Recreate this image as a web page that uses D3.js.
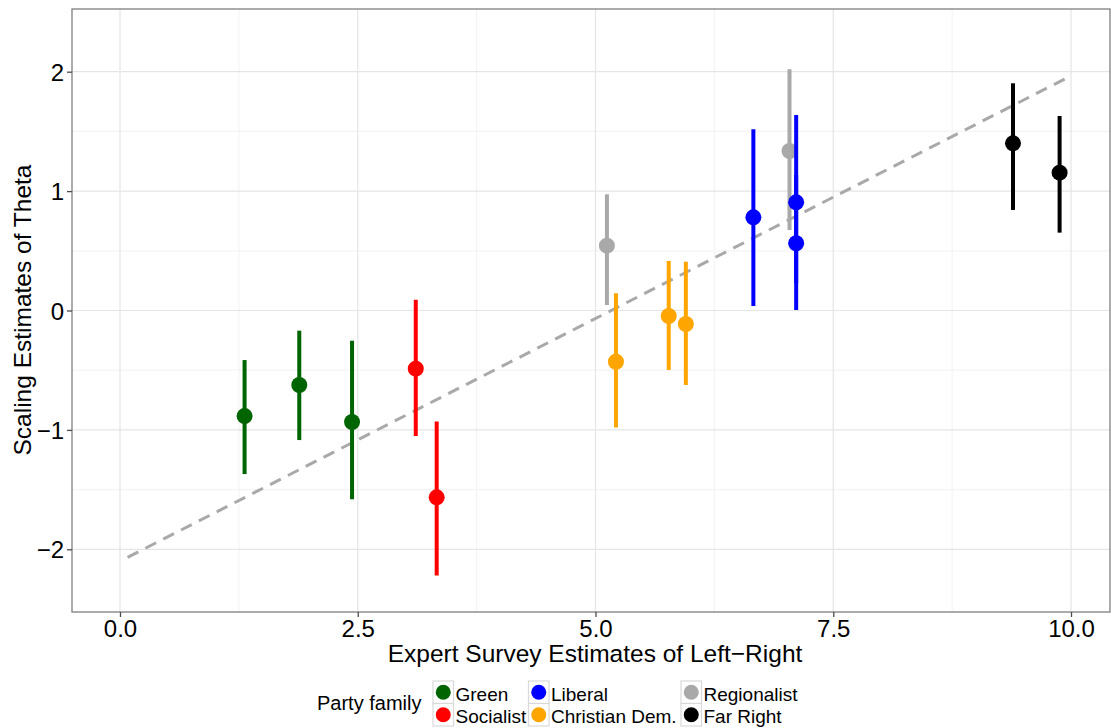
<!DOCTYPE html>
<html>
<head>
<meta charset="utf-8">
<script src="https://cdn.jsdelivr.net/npm/d3@7"></script>
<style>
  body { margin: 0; background: #fff; }
  svg { display: block; font-family: "Liberation Sans", Arial, sans-serif; }
</style>
</head>
<body>
<svg id="chart"></svg>
<script>
const W = 1111;
const H = 728;

// party estimates: expert left-right, theta, and interval bounds
const parties  = ["Green", "Green", "Green", "Socialist", "Socialist", "Regionalist", "Christian Dem.", "Christian Dem.", "Christian Dem.", "Liberal", "Regionalist", "Liberal", "Liberal", "Far Right", "Far Right"];
const expertLR = [1.31, 1.885, 2.44, 3.11, 3.33, 5.12, 5.215, 5.77, 5.95, 6.66, 7.04, 7.11, 7.11, 9.39, 9.88];
const theta    = [-0.884, -0.624, -0.934, -0.487, -1.565, 0.543, -0.429, -0.046, -0.113, 0.78, 1.336, 0.906, 0.563, 1.40, 1.154];
const thetaLo  = [-1.37, -1.085, -1.58, -1.05, -2.22, 0.046, -0.98, -0.498, -0.624, 0.038, 0.674, 0.228, 0.004, 0.842, 0.652];
const thetaHi  = [-0.415, -0.169, -0.253, 0.09, -0.93, 0.973, 0.144, 0.415, 0.409, 1.518, 2.02, 1.637, 1.135, 1.903, 1.629];

// fitted line
const fitX = [0.08, 9.95];
const fitY = [-2.067, 1.945];

const xTicks = [0, 2.5, 5, 7.5, 10];
const xMinor = [1.25, 3.75, 6.25, 8.75];
const yTicks = [-2, -1, 0, 1, 2];
const yMinor = [-1.5, -0.5, 0.5, 1.5];

const families = ["Green", "Socialist", "Liberal", "Christian Dem.", "Regionalist", "Far Right"];
const famColors = ["#006400", "#ff0000", "#0000ff", "#ffa500", "#a9a9a9", "#000000"];

const panel = { left: 72, top: 9, right: 1110, bottom: 612 };

const svg = d3.select("#chart").attr("width", W).attr("height", H);

const x = d3.scaleLinear().domain([-0.5047, 10.41]).range([panel.left, panel.right]);
const y = d3.scaleLinear().domain([-2.525, 2.525]).range([panel.bottom, panel.top]);
const color = d3.scaleOrdinal().domain(families).range(famColors);

const fmtX = d => d3.format(".1f")(d);
const fmtY = d => d < 0 ? "\u2212" + Math.abs(d) : String(d);

// gridlines
const grid = svg.append("g");
grid.selectAll(".vmin").data(xMinor).enter().append("line")
	.attr("x1", d => x(d)).attr("x2", d => x(d))
	.attr("y1", panel.top).attr("y2", panel.bottom)
	.attr("stroke", "#f4f4f4").attr("stroke-width", 1.2);
grid.selectAll(".hmin").data(yMinor).enter().append("line")
	.attr("y1", d => y(d)).attr("y2", d => y(d))
	.attr("x1", panel.left).attr("x2", panel.right)
	.attr("stroke", "#f4f4f4").attr("stroke-width", 1.2);
grid.selectAll(".vmaj").data(xTicks).enter().append("line")
	.attr("x1", d => x(d)).attr("x2", d => x(d))
	.attr("y1", panel.top).attr("y2", panel.bottom)
	.attr("stroke", "#e5e5e5").attr("stroke-width", 1.2);
grid.selectAll(".hmaj").data(yTicks).enter().append("line")
	.attr("y1", d => y(d)).attr("y2", d => y(d))
	.attr("x1", panel.left).attr("x2", panel.right)
	.attr("stroke", "#e5e5e5").attr("stroke-width", 1.2);

// dashed fit line
svg.append("line")
	.attr("x1", x(fitX[0])).attr("y1", y(fitY[0]))
	.attr("x2", x(fitX[1])).attr("y2", y(fitY[1]))
	.attr("stroke", "#a9a9a9").attr("stroke-width", 3)
	.attr("stroke-dasharray", "12,8");

// point ranges
const rows = parties.map((p, i) => ({ party: p, lr: expertLR[i], th: theta[i], lo: thetaLo[i], hi: thetaHi[i] }));
const pr = svg.append("g").selectAll("g").data(rows).enter().append("g");
pr.append("line")
	.attr("x1", d => x(d.lr)).attr("x2", d => x(d.lr))
	.attr("y1", d => y(d.lo)).attr("y2", d => y(d.hi))
	.attr("stroke", d => color(d.party)).attr("stroke-width", 4);
pr.append("circle")
	.attr("cx", d => x(d.lr)).attr("cy", d => y(d.th))
	.attr("r", 8)
	.attr("fill", d => color(d.party));

// panel border
svg.append("rect")
	.attr("x", panel.left).attr("y", panel.top)
	.attr("width", panel.right - panel.left).attr("height", panel.bottom - panel.top)
	.attr("fill", "none").attr("stroke", "#7f7f7f").attr("stroke-width", 1.3);

// axes
const xAxis = svg.append("g")
	.attr("transform", `translate(0,${panel.bottom})`)
	.call(d3.axisBottom(x).tickValues(xTicks).tickFormat(fmtX).tickSize(5).tickPadding(3));
const yAxis = svg.append("g")
	.attr("transform", `translate(${panel.left},0)`)
	.call(d3.axisLeft(y).tickValues(yTicks).tickFormat(fmtY).tickSize(5).tickPadding(3));
[xAxis, yAxis].forEach(a => {
	a.select(".domain").remove();
	a.selectAll(".tick line").attr("stroke", "#4d4d4d").attr("stroke-width", 1.3);
	a.selectAll(".tick text").attr("fill", "#000").style("font-size", "24px").style("font-family", "Liberation Sans, Arial, sans-serif");
});
xAxis.selectAll(".tick text").attr("dy", "0.72em");
yAxis.selectAll(".tick text").attr("dy", "0.36em");

// axis titles
svg.append("text")
	.attr("x", 595).attr("y", 662)
	.attr("text-anchor", "middle")
	.style("font-size", "24.5px")
	.text("Expert Survey Estimates of Left\u2212Right");
svg.append("text")
	.attr("transform", "translate(31,310) rotate(-90)")
	.attr("text-anchor", "middle")
	.style("font-size", "24.5px")
	.text("Scaling Estimates of Theta");

// legend
const legend = svg.append("g");
legend.append("text")
	.attr("x", 317).attr("y", 710)
	.style("font-size", "20px")
	.text("Party family");
const colX = [433, 528.5, 681];
const rowY = [681, 703.5];
const items = legend.selectAll(".item").data(families).enter().append("g")
	.attr("transform", (d, i) => `translate(${colX[Math.floor(i / 2)]},${rowY[i % 2]})`);
items.append("rect")
	.attr("width", 20.5).attr("height", 22.5)
	.attr("fill", "#fff").attr("stroke", "#d9d9d9").attr("stroke-width", 1.2);
items.append("circle")
	.attr("cx", 10.25).attr("cy", 11.25).attr("r", 7.5)
	.attr("fill", d => color(d));
items.append("text")
	.attr("x", 22.5).attr("y", 19.5)
	.style("font-size", "19px")
	.text(d => d);
</script>
</body>
</html>
